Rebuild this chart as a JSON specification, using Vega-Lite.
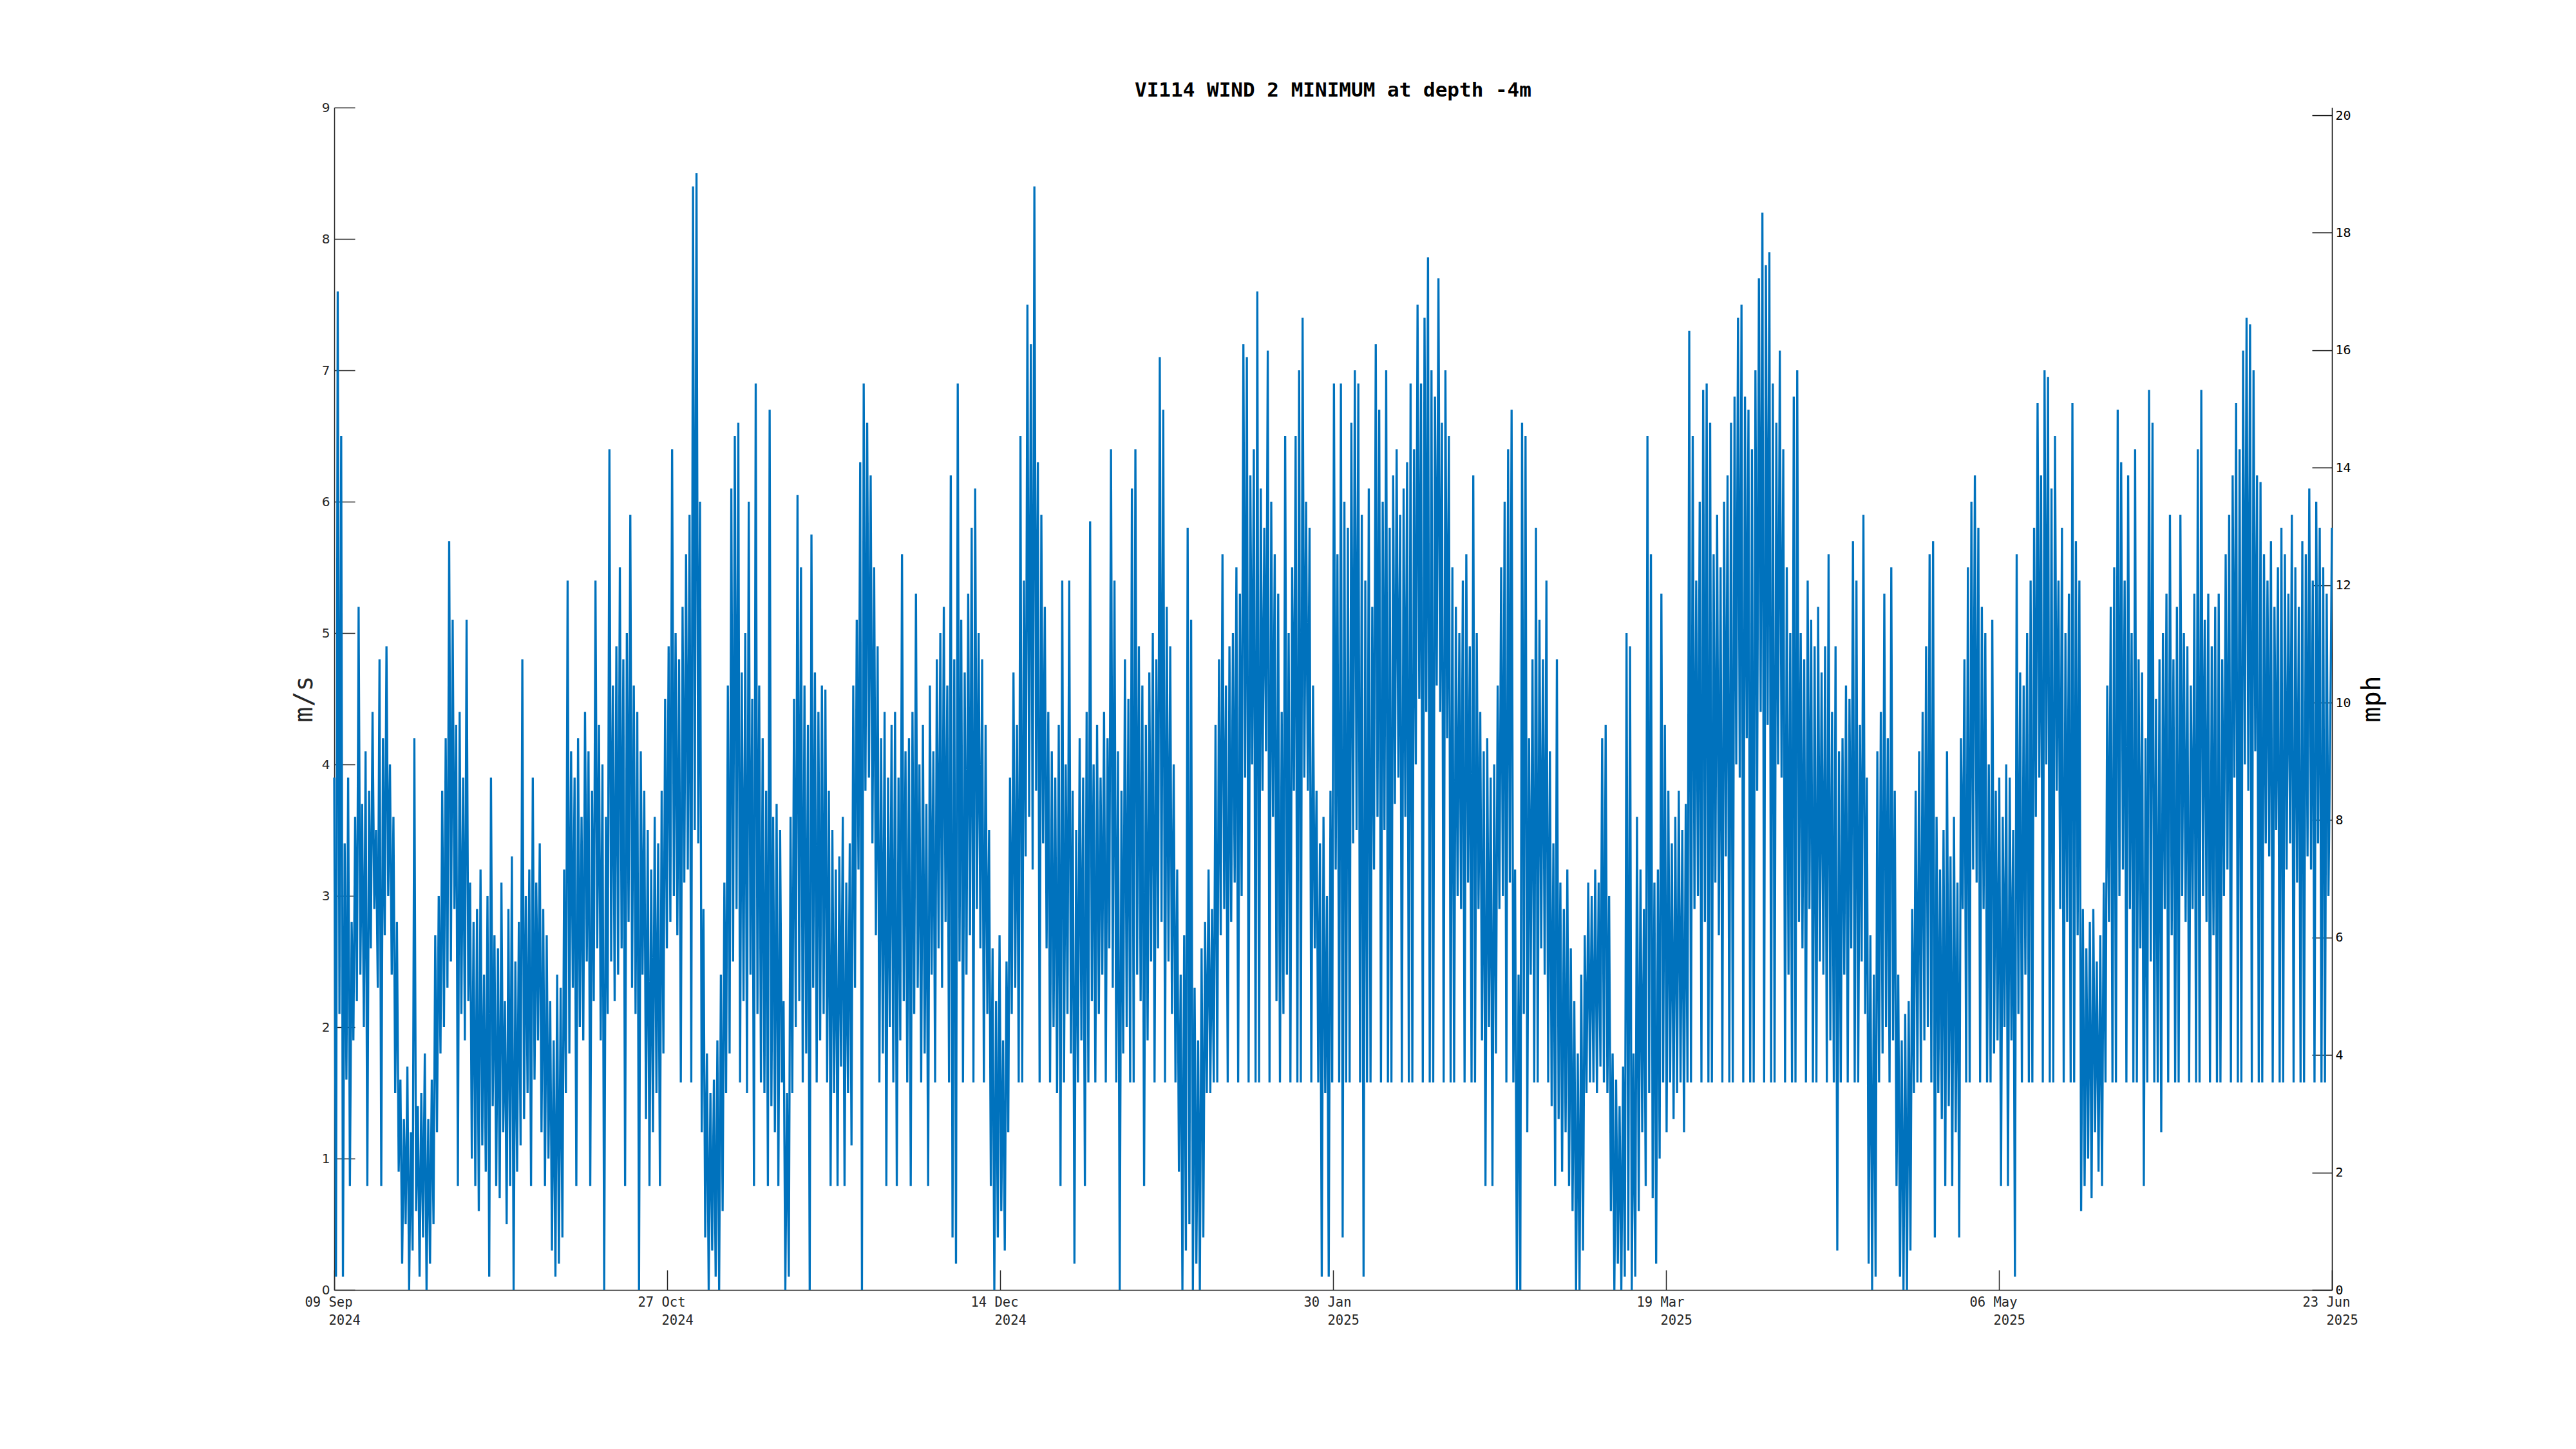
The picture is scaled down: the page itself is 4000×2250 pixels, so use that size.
{
"$schema": "https://vega.github.io/schema/vega-lite/v6.json",
"width": 3102, "height": 1836,
"autosize": "none",
"padding": {"left": 519, "top": 167, "right": 379, "bottom": 247},
"background": "white",
"config": {"view": {"stroke": null}},
"title": {"text": "VI114 WIND 2 MINIMUM at depth -4m", "font": "DejaVu Sans Mono", "fontSize": 31, "fontWeight": "bold", "color": "black", "anchor": "middle", "frame": "group", "offset": 14, "dy": 38, "baseline": "alphabetic"},
"datasets": {
"mphscale": [{"mph": 0}, {"mph": 20}],
"wind": [
{"t":"2024-09-09T12:00","v":3.9},{"t":"2024-09-09T18:00","v":0.1},
{"t":"2024-09-10T00:00","v":7.6},{"t":"2024-09-10T06:00","v":2.1},{"t":"2024-09-10T12:00","v":6.5},{"t":"2024-09-10T18:00","v":0.1},
{"t":"2024-09-11T00:00","v":3.4},{"t":"2024-09-11T06:00","v":1.6},{"t":"2024-09-11T12:00","v":3.9},{"t":"2024-09-11T18:00","v":0.79},
{"t":"2024-09-12T00:00","v":2.8},{"t":"2024-09-12T06:00","v":1.9},{"t":"2024-09-12T12:00","v":3.6},{"t":"2024-09-12T18:00","v":2.2},
{"t":"2024-09-13T00:00","v":5.2},{"t":"2024-09-13T06:00","v":2.4},{"t":"2024-09-13T12:00","v":3.7},{"t":"2024-09-13T18:00","v":2.0},
{"t":"2024-09-14T00:00","v":4.1},{"t":"2024-09-14T06:00","v":0.79},{"t":"2024-09-14T12:00","v":3.8},{"t":"2024-09-14T18:00","v":2.6},
{"t":"2024-09-15T00:00","v":4.4},{"t":"2024-09-15T06:00","v":2.9},{"t":"2024-09-15T12:00","v":3.5},{"t":"2024-09-15T18:00","v":2.3},
{"t":"2024-09-16T00:00","v":4.8},{"t":"2024-09-16T06:00","v":0.79},{"t":"2024-09-16T12:00","v":4.2},{"t":"2024-09-16T18:00","v":2.7},
{"t":"2024-09-17T00:00","v":4.9},{"t":"2024-09-17T06:00","v":3.0},{"t":"2024-09-17T12:00","v":4.0},{"t":"2024-09-17T18:00","v":2.4},
{"t":"2024-09-18T00:00","v":3.6},{"t":"2024-09-18T06:00","v":1.5},{"t":"2024-09-18T12:00","v":2.8},{"t":"2024-09-18T18:00","v":0.9},
{"t":"2024-09-19T00:00","v":1.6},{"t":"2024-09-19T06:00","v":0.2},{"t":"2024-09-19T12:00","v":1.3},{"t":"2024-09-19T18:00","v":0.5},
{"t":"2024-09-20T00:00","v":1.7},{"t":"2024-09-20T06:00","v":0.0},{"t":"2024-09-20T12:00","v":1.2},{"t":"2024-09-20T18:00","v":0.3},
{"t":"2024-09-21T00:00","v":4.2},{"t":"2024-09-21T06:00","v":0.6},{"t":"2024-09-21T12:00","v":1.4},{"t":"2024-09-21T18:00","v":0.1},
{"t":"2024-09-22T00:00","v":1.5},{"t":"2024-09-22T06:00","v":0.4},{"t":"2024-09-22T12:00","v":1.8},{"t":"2024-09-22T18:00","v":0.0},
{"t":"2024-09-23T00:00","v":1.3},{"t":"2024-09-23T06:00","v":0.2},{"t":"2024-09-23T12:00","v":1.6},{"t":"2024-09-23T18:00","v":0.5},
{"t":"2024-09-24T00:00","v":2.7},{"t":"2024-09-24T06:00","v":1.2},{"t":"2024-09-24T12:00","v":3.0},{"t":"2024-09-24T18:00","v":1.8},
{"t":"2024-09-25T00:00","v":3.8},{"t":"2024-09-25T06:00","v":2.0},{"t":"2024-09-25T12:00","v":4.2},{"t":"2024-09-25T18:00","v":2.3},
{"t":"2024-09-26T00:00","v":5.7},{"t":"2024-09-26T06:00","v":2.5},{"t":"2024-09-26T12:00","v":5.1},{"t":"2024-09-26T18:00","v":2.9},
{"t":"2024-09-27T00:00","v":4.3},{"t":"2024-09-27T06:00","v":0.79},{"t":"2024-09-27T12:00","v":4.4},{"t":"2024-09-27T18:00","v":2.1},
{"t":"2024-09-28T00:00","v":3.9},{"t":"2024-09-28T06:00","v":1.9},{"t":"2024-09-28T12:00","v":5.1},{"t":"2024-09-28T18:00","v":2.2},
{"t":"2024-09-29T00:00","v":3.1},{"t":"2024-09-29T06:00","v":1.0},{"t":"2024-09-29T12:00","v":2.8},{"t":"2024-09-29T18:00","v":0.79},
{"t":"2024-09-30T00:00","v":2.9},{"t":"2024-09-30T06:00","v":0.6},{"t":"2024-09-30T12:00","v":3.2},{"t":"2024-09-30T18:00","v":1.1},
{"t":"2024-10-01T00:00","v":2.4},{"t":"2024-10-01T06:00","v":0.9},{"t":"2024-10-01T12:00","v":3.0},{"t":"2024-10-01T18:00","v":0.1},
{"t":"2024-10-02T00:00","v":3.9},{"t":"2024-10-02T06:00","v":1.4},{"t":"2024-10-02T12:00","v":2.7},{"t":"2024-10-02T18:00","v":0.79},
{"t":"2024-10-03T00:00","v":2.6},{"t":"2024-10-03T06:00","v":0.7},{"t":"2024-10-03T12:00","v":3.1},{"t":"2024-10-03T18:00","v":1.2},
{"t":"2024-10-04T00:00","v":2.2},{"t":"2024-10-04T06:00","v":0.5},{"t":"2024-10-04T12:00","v":2.9},{"t":"2024-10-04T18:00","v":0.79},
{"t":"2024-10-05T00:00","v":3.3},{"t":"2024-10-05T06:00","v":0.0},{"t":"2024-10-05T12:00","v":2.5},{"t":"2024-10-05T18:00","v":0.9},
{"t":"2024-10-06T00:00","v":2.8},{"t":"2024-10-06T06:00","v":1.1},{"t":"2024-10-06T12:00","v":4.8},{"t":"2024-10-06T18:00","v":1.3},
{"t":"2024-10-07T00:00","v":3.0},{"t":"2024-10-07T06:00","v":1.5},{"t":"2024-10-07T12:00","v":3.2},{"t":"2024-10-07T18:00","v":0.79},
{"t":"2024-10-08T00:00","v":3.9},{"t":"2024-10-08T06:00","v":1.6},{"t":"2024-10-08T12:00","v":3.1},{"t":"2024-10-08T18:00","v":1.9},
{"t":"2024-10-09T00:00","v":3.4},{"t":"2024-10-09T06:00","v":1.2},{"t":"2024-10-09T12:00","v":2.9},{"t":"2024-10-09T18:00","v":0.79},
{"t":"2024-10-10T00:00","v":2.7},{"t":"2024-10-10T06:00","v":1.0},{"t":"2024-10-10T12:00","v":2.2},{"t":"2024-10-10T18:00","v":0.3},
{"t":"2024-10-11T00:00","v":1.9},{"t":"2024-10-11T06:00","v":0.1},{"t":"2024-10-11T12:00","v":2.4},{"t":"2024-10-11T18:00","v":0.2},
{"t":"2024-10-12T00:00","v":2.3},{"t":"2024-10-12T06:00","v":0.4},{"t":"2024-10-12T12:00","v":3.2},{"t":"2024-10-12T18:00","v":1.5},
{"t":"2024-10-13T00:00","v":5.4},{"t":"2024-10-13T06:00","v":1.8},{"t":"2024-10-13T12:00","v":4.1},{"t":"2024-10-13T18:00","v":2.3},
{"t":"2024-10-14T00:00","v":3.9},{"t":"2024-10-14T06:00","v":0.79},{"t":"2024-10-14T12:00","v":4.2},{"t":"2024-10-14T18:00","v":2.0},
{"t":"2024-10-15T00:00","v":3.6},{"t":"2024-10-15T06:00","v":1.9},{"t":"2024-10-15T12:00","v":4.4},{"t":"2024-10-15T18:00","v":2.5},
{"t":"2024-10-16T00:00","v":4.1},{"t":"2024-10-16T06:00","v":0.79},{"t":"2024-10-16T12:00","v":3.8},{"t":"2024-10-16T18:00","v":2.2},
{"t":"2024-10-17T00:00","v":5.4},{"t":"2024-10-17T06:00","v":2.6},{"t":"2024-10-17T12:00","v":4.3},{"t":"2024-10-17T18:00","v":1.9},
{"t":"2024-10-18T00:00","v":4.0},{"t":"2024-10-18T06:00","v":0.0},{"t":"2024-10-18T12:00","v":3.6},{"t":"2024-10-18T18:00","v":2.1},
{"t":"2024-10-19T00:00","v":6.4},{"t":"2024-10-19T06:00","v":2.5},{"t":"2024-10-19T12:00","v":4.6},{"t":"2024-10-19T18:00","v":2.2},
{"t":"2024-10-20T00:00","v":4.9},{"t":"2024-10-20T06:00","v":2.4},{"t":"2024-10-20T12:00","v":5.5},{"t":"2024-10-20T18:00","v":2.6},
{"t":"2024-10-21T00:00","v":4.8},{"t":"2024-10-21T06:00","v":0.79},{"t":"2024-10-21T12:00","v":5.0},{"t":"2024-10-21T18:00","v":2.8},
{"t":"2024-10-22T00:00","v":5.9},{"t":"2024-10-22T06:00","v":2.3},{"t":"2024-10-22T12:00","v":4.6},{"t":"2024-10-22T18:00","v":2.1},
{"t":"2024-10-23T00:00","v":4.4},{"t":"2024-10-23T06:00","v":0.0},{"t":"2024-10-23T12:00","v":4.1},{"t":"2024-10-23T18:00","v":2.4},
{"t":"2024-10-24T00:00","v":3.8},{"t":"2024-10-24T06:00","v":1.3},{"t":"2024-10-24T12:00","v":3.5},{"t":"2024-10-24T18:00","v":0.79},
{"t":"2024-10-25T00:00","v":3.2},{"t":"2024-10-25T06:00","v":1.2},{"t":"2024-10-25T12:00","v":3.6},{"t":"2024-10-25T18:00","v":1.5},
{"t":"2024-10-26T00:00","v":3.4},{"t":"2024-10-26T06:00","v":0.79},{"t":"2024-10-26T12:00","v":3.8},{"t":"2024-10-26T18:00","v":1.8},
{"t":"2024-10-27T00:00","v":4.5},{"t":"2024-10-27T06:00","v":2.6},{"t":"2024-10-27T12:00","v":4.9},{"t":"2024-10-27T18:00","v":2.8},
{"t":"2024-10-28T00:00","v":6.4},{"t":"2024-10-28T06:00","v":3.0},{"t":"2024-10-28T12:00","v":5.0},{"t":"2024-10-28T18:00","v":2.7},
{"t":"2024-10-29T00:00","v":4.8},{"t":"2024-10-29T06:00","v":1.58},{"t":"2024-10-29T12:00","v":5.2},{"t":"2024-10-29T18:00","v":3.1},
{"t":"2024-10-30T00:00","v":5.6},{"t":"2024-10-30T06:00","v":3.2},{"t":"2024-10-30T12:00","v":5.9},{"t":"2024-10-30T18:00","v":1.58},
{"t":"2024-10-31T00:00","v":8.4},{"t":"2024-10-31T06:00","v":3.5},{"t":"2024-10-31T12:00","v":8.5},{"t":"2024-10-31T18:00","v":3.4},
{"t":"2024-11-01T00:00","v":6.0},{"t":"2024-11-01T06:00","v":1.2},{"t":"2024-11-01T12:00","v":2.9},{"t":"2024-11-01T18:00","v":0.4},
{"t":"2024-11-02T00:00","v":1.8},{"t":"2024-11-02T06:00","v":0.0},{"t":"2024-11-02T12:00","v":1.5},{"t":"2024-11-02T18:00","v":0.3},
{"t":"2024-11-03T00:00","v":1.6},{"t":"2024-11-03T06:00","v":0.1},{"t":"2024-11-03T12:00","v":1.9},{"t":"2024-11-03T18:00","v":0.0},
{"t":"2024-11-04T00:00","v":2.4},{"t":"2024-11-04T06:00","v":0.6},{"t":"2024-11-04T12:00","v":3.1},{"t":"2024-11-04T18:00","v":1.5},
{"t":"2024-11-05T00:00","v":4.6},{"t":"2024-11-05T06:00","v":1.8},{"t":"2024-11-05T12:00","v":6.1},{"t":"2024-11-05T18:00","v":2.5},
{"t":"2024-11-06T00:00","v":6.5},{"t":"2024-11-06T06:00","v":2.9},{"t":"2024-11-06T12:00","v":6.6},{"t":"2024-11-06T18:00","v":1.58},
{"t":"2024-11-07T00:00","v":4.7},{"t":"2024-11-07T06:00","v":2.2},{"t":"2024-11-07T12:00","v":5.0},{"t":"2024-11-07T18:00","v":1.5},
{"t":"2024-11-08T00:00","v":6.0},{"t":"2024-11-08T06:00","v":2.4},{"t":"2024-11-08T12:00","v":4.5},{"t":"2024-11-08T18:00","v":0.79},
{"t":"2024-11-09T00:00","v":6.9},{"t":"2024-11-09T06:00","v":2.1},{"t":"2024-11-09T12:00","v":4.6},{"t":"2024-11-09T18:00","v":1.58},
{"t":"2024-11-10T00:00","v":4.2},{"t":"2024-11-10T06:00","v":1.5},{"t":"2024-11-10T12:00","v":3.8},{"t":"2024-11-10T18:00","v":0.79},
{"t":"2024-11-11T00:00","v":6.7},{"t":"2024-11-11T06:00","v":1.4},{"t":"2024-11-11T12:00","v":3.6},{"t":"2024-11-11T18:00","v":1.2},
{"t":"2024-11-12T00:00","v":3.7},{"t":"2024-11-12T06:00","v":0.79},{"t":"2024-11-12T12:00","v":3.5},{"t":"2024-11-12T18:00","v":1.58},
{"t":"2024-11-13T00:00","v":2.2},{"t":"2024-11-13T06:00","v":0.0},{"t":"2024-11-13T12:00","v":1.5},{"t":"2024-11-13T18:00","v":0.1},
{"t":"2024-11-14T00:00","v":3.6},{"t":"2024-11-14T06:00","v":1.5},{"t":"2024-11-14T12:00","v":4.5},{"t":"2024-11-14T18:00","v":2.0},
{"t":"2024-11-15T00:00","v":6.05},{"t":"2024-11-15T06:00","v":2.2},{"t":"2024-11-15T12:00","v":5.5},{"t":"2024-11-15T18:00","v":1.58},
{"t":"2024-11-16T00:00","v":4.6},{"t":"2024-11-16T06:00","v":1.8},{"t":"2024-11-16T12:00","v":4.3},{"t":"2024-11-16T18:00","v":0.0},
{"t":"2024-11-17T00:00","v":5.75},{"t":"2024-11-17T06:00","v":2.3},{"t":"2024-11-17T12:00","v":4.7},{"t":"2024-11-17T18:00","v":1.58},
{"t":"2024-11-18T00:00","v":4.4},{"t":"2024-11-18T06:00","v":1.9},{"t":"2024-11-18T12:00","v":4.6},{"t":"2024-11-18T18:00","v":2.1},
{"t":"2024-11-19T00:00","v":4.57},{"t":"2024-11-19T06:00","v":1.58},{"t":"2024-11-19T12:00","v":3.8},{"t":"2024-11-19T18:00","v":0.79},
{"t":"2024-11-20T00:00","v":3.5},{"t":"2024-11-20T06:00","v":1.5},{"t":"2024-11-20T12:00","v":3.2},{"t":"2024-11-20T18:00","v":0.79},
{"t":"2024-11-21T00:00","v":3.3},{"t":"2024-11-21T06:00","v":1.7},{"t":"2024-11-21T12:00","v":3.6},{"t":"2024-11-21T18:00","v":0.79},
{"t":"2024-11-22T00:00","v":3.1},{"t":"2024-11-22T06:00","v":1.5},{"t":"2024-11-22T12:00","v":3.4},{"t":"2024-11-22T18:00","v":1.1},
{"t":"2024-11-23T00:00","v":4.6},{"t":"2024-11-23T06:00","v":2.3},{"t":"2024-11-23T12:00","v":5.1},{"t":"2024-11-23T18:00","v":3.2},
{"t":"2024-11-24T00:00","v":6.3},{"t":"2024-11-24T06:00","v":0.0},{"t":"2024-11-24T12:00","v":6.9},{"t":"2024-11-24T18:00","v":3.8},
{"t":"2024-11-25T00:00","v":6.6},{"t":"2024-11-25T06:00","v":3.9},{"t":"2024-11-25T12:00","v":6.2},{"t":"2024-11-25T18:00","v":3.4},
{"t":"2024-11-26T00:00","v":5.5},{"t":"2024-11-26T06:00","v":2.7},{"t":"2024-11-26T12:00","v":4.9},{"t":"2024-11-26T18:00","v":1.58},
{"t":"2024-11-27T00:00","v":4.2},{"t":"2024-11-27T06:00","v":1.8},{"t":"2024-11-27T12:00","v":4.4},{"t":"2024-11-27T18:00","v":0.79},
{"t":"2024-11-28T00:00","v":3.9},{"t":"2024-11-28T06:00","v":2.0},{"t":"2024-11-28T12:00","v":4.3},{"t":"2024-11-28T18:00","v":1.58},
{"t":"2024-11-29T00:00","v":4.4},{"t":"2024-11-29T06:00","v":0.79},{"t":"2024-11-29T12:00","v":3.9},{"t":"2024-11-29T18:00","v":1.9},
{"t":"2024-11-30T00:00","v":5.6},{"t":"2024-11-30T06:00","v":2.2},{"t":"2024-11-30T12:00","v":4.1},{"t":"2024-11-30T18:00","v":1.58},
{"t":"2024-12-01T00:00","v":4.2},{"t":"2024-12-01T06:00","v":0.79},{"t":"2024-12-01T12:00","v":4.4},{"t":"2024-12-01T18:00","v":2.1},
{"t":"2024-12-02T00:00","v":5.3},{"t":"2024-12-02T06:00","v":2.3},{"t":"2024-12-02T12:00","v":4.0},{"t":"2024-12-02T18:00","v":1.58},
{"t":"2024-12-03T00:00","v":4.3},{"t":"2024-12-03T06:00","v":1.8},{"t":"2024-12-03T12:00","v":3.7},{"t":"2024-12-03T18:00","v":0.79},
{"t":"2024-12-04T00:00","v":4.6},{"t":"2024-12-04T06:00","v":2.4},{"t":"2024-12-04T12:00","v":4.1},{"t":"2024-12-04T18:00","v":1.58},
{"t":"2024-12-05T00:00","v":4.8},{"t":"2024-12-05T06:00","v":2.6},{"t":"2024-12-05T12:00","v":5.0},{"t":"2024-12-05T18:00","v":2.3},
{"t":"2024-12-06T00:00","v":5.2},{"t":"2024-12-06T06:00","v":2.8},{"t":"2024-12-06T12:00","v":4.6},{"t":"2024-12-06T18:00","v":1.58},
{"t":"2024-12-07T00:00","v":6.2},{"t":"2024-12-07T06:00","v":0.4},{"t":"2024-12-07T12:00","v":4.8},{"t":"2024-12-07T18:00","v":0.2},
{"t":"2024-12-08T00:00","v":6.9},{"t":"2024-12-08T06:00","v":2.5},{"t":"2024-12-08T12:00","v":5.1},{"t":"2024-12-08T18:00","v":1.58},
{"t":"2024-12-09T00:00","v":4.7},{"t":"2024-12-09T06:00","v":2.4},{"t":"2024-12-09T12:00","v":5.3},{"t":"2024-12-09T18:00","v":2.7},
{"t":"2024-12-10T00:00","v":5.8},{"t":"2024-12-10T06:00","v":1.58},{"t":"2024-12-10T12:00","v":6.1},{"t":"2024-12-10T18:00","v":2.9},
{"t":"2024-12-11T00:00","v":5.0},{"t":"2024-12-11T06:00","v":2.6},{"t":"2024-12-11T12:00","v":4.8},{"t":"2024-12-11T18:00","v":1.58},
{"t":"2024-12-12T00:00","v":4.3},{"t":"2024-12-12T06:00","v":2.1},{"t":"2024-12-12T12:00","v":3.5},{"t":"2024-12-12T18:00","v":0.79},
{"t":"2024-12-13T00:00","v":2.6},{"t":"2024-12-13T06:00","v":0.0},{"t":"2024-12-13T12:00","v":2.2},{"t":"2024-12-13T18:00","v":0.4},
{"t":"2024-12-14T00:00","v":2.7},{"t":"2024-12-14T06:00","v":0.6},{"t":"2024-12-14T12:00","v":1.9},{"t":"2024-12-14T18:00","v":0.3},
{"t":"2024-12-15T00:00","v":2.5},{"t":"2024-12-15T06:00","v":1.2},{"t":"2024-12-15T12:00","v":3.9},{"t":"2024-12-15T18:00","v":2.1},
{"t":"2024-12-16T00:00","v":4.7},{"t":"2024-12-16T06:00","v":2.3},{"t":"2024-12-16T12:00","v":4.3},{"t":"2024-12-16T18:00","v":1.58},
{"t":"2024-12-17T00:00","v":6.5},{"t":"2024-12-17T06:00","v":1.58},{"t":"2024-12-17T12:00","v":5.4},{"t":"2024-12-17T18:00","v":3.3},
{"t":"2024-12-18T00:00","v":7.5},{"t":"2024-12-18T06:00","v":3.6},{"t":"2024-12-18T12:00","v":7.2},{"t":"2024-12-18T18:00","v":3.2},
{"t":"2024-12-19T00:00","v":8.4},{"t":"2024-12-19T06:00","v":3.8},{"t":"2024-12-19T12:00","v":6.3},{"t":"2024-12-19T18:00","v":1.58},
{"t":"2024-12-20T00:00","v":5.9},{"t":"2024-12-20T06:00","v":3.4},{"t":"2024-12-20T12:00","v":5.2},{"t":"2024-12-20T18:00","v":2.6},
{"t":"2024-12-21T00:00","v":4.4},{"t":"2024-12-21T06:00","v":1.58},{"t":"2024-12-21T12:00","v":4.1},{"t":"2024-12-21T18:00","v":2.0},
{"t":"2024-12-22T00:00","v":3.9},{"t":"2024-12-22T06:00","v":1.5},{"t":"2024-12-22T12:00","v":4.3},{"t":"2024-12-22T18:00","v":0.79},
{"t":"2024-12-23T00:00","v":5.4},{"t":"2024-12-23T06:00","v":1.58},{"t":"2024-12-23T12:00","v":4.0},{"t":"2024-12-23T18:00","v":2.1},
{"t":"2024-12-24T00:00","v":5.4},{"t":"2024-12-24T06:00","v":1.8},{"t":"2024-12-24T12:00","v":3.8},{"t":"2024-12-24T18:00","v":0.2},
{"t":"2024-12-25T00:00","v":3.5},{"t":"2024-12-25T06:00","v":1.58},{"t":"2024-12-25T12:00","v":4.2},{"t":"2024-12-25T18:00","v":1.9},
{"t":"2024-12-26T00:00","v":3.9},{"t":"2024-12-26T06:00","v":0.79},{"t":"2024-12-26T12:00","v":4.4},{"t":"2024-12-26T18:00","v":1.58},
{"t":"2024-12-27T00:00","v":5.85},{"t":"2024-12-27T06:00","v":2.2},{"t":"2024-12-27T12:00","v":4.0},{"t":"2024-12-27T18:00","v":1.58},
{"t":"2024-12-28T00:00","v":4.3},{"t":"2024-12-28T06:00","v":2.1},{"t":"2024-12-28T12:00","v":3.9},{"t":"2024-12-28T18:00","v":2.4},
{"t":"2024-12-29T00:00","v":4.4},{"t":"2024-12-29T06:00","v":1.58},{"t":"2024-12-29T12:00","v":4.2},{"t":"2024-12-29T18:00","v":2.6},
{"t":"2024-12-30T00:00","v":6.4},{"t":"2024-12-30T06:00","v":2.3},{"t":"2024-12-30T12:00","v":5.4},{"t":"2024-12-30T18:00","v":1.58},
{"t":"2024-12-31T00:00","v":4.1},{"t":"2024-12-31T06:00","v":0.0},{"t":"2024-12-31T12:00","v":3.8},{"t":"2024-12-31T18:00","v":1.8},
{"t":"2025-01-01T00:00","v":4.8},{"t":"2025-01-01T06:00","v":2.0},{"t":"2025-01-01T12:00","v":4.5},{"t":"2025-01-01T18:00","v":1.58},
{"t":"2025-01-02T00:00","v":6.1},{"t":"2025-01-02T06:00","v":1.58},{"t":"2025-01-02T12:00","v":6.4},{"t":"2025-01-02T18:00","v":2.4},
{"t":"2025-01-03T00:00","v":4.9},{"t":"2025-01-03T06:00","v":2.2},{"t":"2025-01-03T12:00","v":4.6},{"t":"2025-01-03T18:00","v":0.79},
{"t":"2025-01-04T00:00","v":4.3},{"t":"2025-01-04T06:00","v":1.9},{"t":"2025-01-04T12:00","v":4.7},{"t":"2025-01-04T18:00","v":2.5},
{"t":"2025-01-05T00:00","v":5.0},{"t":"2025-01-05T06:00","v":1.58},{"t":"2025-01-05T12:00","v":4.8},{"t":"2025-01-05T18:00","v":2.6},
{"t":"2025-01-06T00:00","v":7.1},{"t":"2025-01-06T06:00","v":2.8},{"t":"2025-01-06T12:00","v":6.7},{"t":"2025-01-06T18:00","v":1.58},
{"t":"2025-01-07T00:00","v":5.2},{"t":"2025-01-07T06:00","v":2.5},{"t":"2025-01-07T12:00","v":4.9},{"t":"2025-01-07T18:00","v":2.1},
{"t":"2025-01-08T00:00","v":4.0},{"t":"2025-01-08T06:00","v":1.58},{"t":"2025-01-08T12:00","v":3.2},{"t":"2025-01-08T18:00","v":0.9},
{"t":"2025-01-09T00:00","v":2.4},{"t":"2025-01-09T06:00","v":0.0},{"t":"2025-01-09T12:00","v":2.7},{"t":"2025-01-09T18:00","v":0.3},
{"t":"2025-01-10T00:00","v":5.8},{"t":"2025-01-10T06:00","v":0.5},{"t":"2025-01-10T12:00","v":5.1},{"t":"2025-01-10T18:00","v":0.0},
{"t":"2025-01-11T00:00","v":2.3},{"t":"2025-01-11T06:00","v":0.2},{"t":"2025-01-11T12:00","v":1.9},{"t":"2025-01-11T18:00","v":0.0},
{"t":"2025-01-12T00:00","v":2.6},{"t":"2025-01-12T06:00","v":0.4},{"t":"2025-01-12T12:00","v":2.8},{"t":"2025-01-12T18:00","v":1.5},
{"t":"2025-01-13T00:00","v":3.2},{"t":"2025-01-13T06:00","v":1.5},{"t":"2025-01-13T12:00","v":2.9},{"t":"2025-01-13T18:00","v":1.58},
{"t":"2025-01-14T00:00","v":4.3},{"t":"2025-01-14T06:00","v":1.58},{"t":"2025-01-14T12:00","v":4.8},{"t":"2025-01-14T18:00","v":2.7},
{"t":"2025-01-15T00:00","v":5.6},{"t":"2025-01-15T06:00","v":2.9},{"t":"2025-01-15T12:00","v":4.6},{"t":"2025-01-15T18:00","v":1.58},
{"t":"2025-01-16T00:00","v":4.9},{"t":"2025-01-16T06:00","v":2.8},{"t":"2025-01-16T12:00","v":5.0},{"t":"2025-01-16T18:00","v":3.1},
{"t":"2025-01-17T00:00","v":5.5},{"t":"2025-01-17T06:00","v":1.58},{"t":"2025-01-17T12:00","v":5.3},{"t":"2025-01-17T18:00","v":3.0},
{"t":"2025-01-18T00:00","v":7.2},{"t":"2025-01-18T06:00","v":3.9},{"t":"2025-01-18T12:00","v":7.1},{"t":"2025-01-18T18:00","v":1.58},
{"t":"2025-01-19T00:00","v":6.2},{"t":"2025-01-19T06:00","v":4.0},{"t":"2025-01-19T12:00","v":6.4},{"t":"2025-01-19T18:00","v":1.58},
{"t":"2025-01-20T00:00","v":7.6},{"t":"2025-01-20T06:00","v":1.58},{"t":"2025-01-20T12:00","v":6.1},{"t":"2025-01-20T18:00","v":3.8},
{"t":"2025-01-21T00:00","v":5.8},{"t":"2025-01-21T06:00","v":4.1},{"t":"2025-01-21T12:00","v":7.15},{"t":"2025-01-21T18:00","v":1.58},
{"t":"2025-01-22T00:00","v":6.0},{"t":"2025-01-22T06:00","v":3.6},{"t":"2025-01-22T12:00","v":5.6},{"t":"2025-01-22T18:00","v":2.2},
{"t":"2025-01-23T00:00","v":5.3},{"t":"2025-01-23T06:00","v":1.58},{"t":"2025-01-23T12:00","v":4.4},{"t":"2025-01-23T18:00","v":2.1},
{"t":"2025-01-24T00:00","v":6.5},{"t":"2025-01-24T06:00","v":2.4},{"t":"2025-01-24T12:00","v":5.0},{"t":"2025-01-24T18:00","v":1.58},
{"t":"2025-01-25T00:00","v":5.5},{"t":"2025-01-25T06:00","v":3.8},{"t":"2025-01-25T12:00","v":6.5},{"t":"2025-01-25T18:00","v":1.58},
{"t":"2025-01-26T00:00","v":7.0},{"t":"2025-01-26T06:00","v":1.58},{"t":"2025-01-26T12:00","v":7.4},{"t":"2025-01-26T18:00","v":3.9},
{"t":"2025-01-27T00:00","v":6.0},{"t":"2025-01-27T06:00","v":3.8},{"t":"2025-01-27T12:00","v":5.8},{"t":"2025-01-27T18:00","v":1.58},
{"t":"2025-01-28T00:00","v":4.6},{"t":"2025-01-28T06:00","v":2.6},{"t":"2025-01-28T12:00","v":3.8},{"t":"2025-01-28T18:00","v":1.58},
{"t":"2025-01-29T00:00","v":3.4},{"t":"2025-01-29T06:00","v":0.1},{"t":"2025-01-29T12:00","v":3.6},{"t":"2025-01-29T18:00","v":1.5},
{"t":"2025-01-30T00:00","v":3.0},{"t":"2025-01-30T06:00","v":0.1},{"t":"2025-01-30T12:00","v":3.8},{"t":"2025-01-30T18:00","v":1.58},
{"t":"2025-01-31T00:00","v":6.9},{"t":"2025-01-31T06:00","v":3.2},{"t":"2025-01-31T12:00","v":5.6},{"t":"2025-01-31T18:00","v":1.58},
{"t":"2025-02-01T00:00","v":6.9},{"t":"2025-02-01T06:00","v":0.4},{"t":"2025-02-01T12:00","v":6.0},{"t":"2025-02-01T18:00","v":1.58},
{"t":"2025-02-02T00:00","v":5.8},{"t":"2025-02-02T06:00","v":1.58},{"t":"2025-02-02T12:00","v":6.6},{"t":"2025-02-02T18:00","v":3.4},
{"t":"2025-02-03T00:00","v":7.0},{"t":"2025-02-03T06:00","v":3.5},{"t":"2025-02-03T12:00","v":6.9},{"t":"2025-02-03T18:00","v":1.58},
{"t":"2025-02-04T00:00","v":5.9},{"t":"2025-02-04T06:00","v":0.1},{"t":"2025-02-04T12:00","v":5.4},{"t":"2025-02-04T18:00","v":1.58},
{"t":"2025-02-05T00:00","v":6.1},{"t":"2025-02-05T06:00","v":1.58},{"t":"2025-02-05T12:00","v":5.2},{"t":"2025-02-05T18:00","v":3.2},
{"t":"2025-02-06T00:00","v":7.2},{"t":"2025-02-06T06:00","v":3.6},{"t":"2025-02-06T12:00","v":6.7},{"t":"2025-02-06T18:00","v":1.58},
{"t":"2025-02-07T00:00","v":6.0},{"t":"2025-02-07T06:00","v":3.5},{"t":"2025-02-07T12:00","v":7.0},{"t":"2025-02-07T18:00","v":1.58},
{"t":"2025-02-08T00:00","v":5.8},{"t":"2025-02-08T06:00","v":1.58},{"t":"2025-02-08T12:00","v":6.2},{"t":"2025-02-08T18:00","v":3.7},
{"t":"2025-02-09T00:00","v":6.4},{"t":"2025-02-09T06:00","v":3.9},{"t":"2025-02-09T12:00","v":5.9},{"t":"2025-02-09T18:00","v":1.58},
{"t":"2025-02-10T00:00","v":6.1},{"t":"2025-02-10T06:00","v":3.6},{"t":"2025-02-10T12:00","v":6.3},{"t":"2025-02-10T18:00","v":1.58},
{"t":"2025-02-11T00:00","v":6.9},{"t":"2025-02-11T06:00","v":1.58},{"t":"2025-02-11T12:00","v":6.4},{"t":"2025-02-11T18:00","v":4.0},
{"t":"2025-02-12T00:00","v":7.5},{"t":"2025-02-12T06:00","v":4.5},{"t":"2025-02-12T12:00","v":6.9},{"t":"2025-02-12T18:00","v":1.58},
{"t":"2025-02-13T00:00","v":7.4},{"t":"2025-02-13T06:00","v":4.4},{"t":"2025-02-13T12:00","v":7.86},{"t":"2025-02-13T18:00","v":1.58},
{"t":"2025-02-14T00:00","v":7.0},{"t":"2025-02-14T06:00","v":1.58},{"t":"2025-02-14T12:00","v":6.8},{"t":"2025-02-14T18:00","v":4.6},
{"t":"2025-02-15T00:00","v":7.7},{"t":"2025-02-15T06:00","v":4.4},{"t":"2025-02-15T12:00","v":6.6},{"t":"2025-02-15T18:00","v":1.58},
{"t":"2025-02-16T00:00","v":7.0},{"t":"2025-02-16T06:00","v":4.2},{"t":"2025-02-16T12:00","v":6.5},{"t":"2025-02-16T18:00","v":1.58},
{"t":"2025-02-17T00:00","v":5.5},{"t":"2025-02-17T06:00","v":1.58},{"t":"2025-02-17T12:00","v":5.2},{"t":"2025-02-17T18:00","v":3.0},
{"t":"2025-02-18T00:00","v":5.0},{"t":"2025-02-18T06:00","v":2.9},{"t":"2025-02-18T12:00","v":5.4},{"t":"2025-02-18T18:00","v":1.58},
{"t":"2025-02-19T00:00","v":5.6},{"t":"2025-02-19T06:00","v":3.1},{"t":"2025-02-19T12:00","v":4.9},{"t":"2025-02-19T18:00","v":1.58},
{"t":"2025-02-20T00:00","v":6.2},{"t":"2025-02-20T06:00","v":1.58},{"t":"2025-02-20T12:00","v":5.0},{"t":"2025-02-20T18:00","v":2.9},
{"t":"2025-02-21T00:00","v":4.4},{"t":"2025-02-21T06:00","v":1.9},{"t":"2025-02-21T12:00","v":4.1},{"t":"2025-02-21T18:00","v":0.79},
{"t":"2025-02-22T00:00","v":4.2},{"t":"2025-02-22T06:00","v":2.0},{"t":"2025-02-22T12:00","v":3.9},{"t":"2025-02-22T18:00","v":0.79},
{"t":"2025-02-23T00:00","v":4.0},{"t":"2025-02-23T06:00","v":1.8},{"t":"2025-02-23T12:00","v":4.6},{"t":"2025-02-23T18:00","v":2.9},
{"t":"2025-02-24T00:00","v":5.5},{"t":"2025-02-24T06:00","v":3.0},{"t":"2025-02-24T12:00","v":6.0},{"t":"2025-02-24T18:00","v":1.58},
{"t":"2025-02-25T00:00","v":6.4},{"t":"2025-02-25T06:00","v":3.1},{"t":"2025-02-25T12:00","v":6.7},{"t":"2025-02-25T18:00","v":1.58},
{"t":"2025-02-26T00:00","v":3.2},{"t":"2025-02-26T06:00","v":0.0},{"t":"2025-02-26T12:00","v":2.4},{"t":"2025-02-26T18:00","v":0.0},
{"t":"2025-02-27T00:00","v":6.6},{"t":"2025-02-27T06:00","v":2.1},{"t":"2025-02-27T12:00","v":6.5},{"t":"2025-02-27T18:00","v":1.2},
{"t":"2025-02-28T00:00","v":4.2},{"t":"2025-02-28T06:00","v":2.4},{"t":"2025-02-28T12:00","v":4.8},{"t":"2025-02-28T18:00","v":1.58},
{"t":"2025-03-01T00:00","v":5.8},{"t":"2025-03-01T06:00","v":1.58},{"t":"2025-03-01T12:00","v":5.1},{"t":"2025-03-01T18:00","v":2.6},
{"t":"2025-03-02T00:00","v":4.8},{"t":"2025-03-02T06:00","v":2.4},{"t":"2025-03-02T12:00","v":5.4},{"t":"2025-03-02T18:00","v":1.58},
{"t":"2025-03-03T00:00","v":4.1},{"t":"2025-03-03T06:00","v":1.4},{"t":"2025-03-03T12:00","v":3.4},{"t":"2025-03-03T18:00","v":0.79},
{"t":"2025-03-04T00:00","v":4.8},{"t":"2025-03-04T06:00","v":1.3},{"t":"2025-03-04T12:00","v":3.1},{"t":"2025-03-04T18:00","v":0.9},
{"t":"2025-03-05T00:00","v":2.9},{"t":"2025-03-05T06:00","v":1.2},{"t":"2025-03-05T12:00","v":3.2},{"t":"2025-03-05T18:00","v":0.79},
{"t":"2025-03-06T00:00","v":2.6},{"t":"2025-03-06T06:00","v":0.6},{"t":"2025-03-06T12:00","v":2.2},{"t":"2025-03-06T18:00","v":0.0},
{"t":"2025-03-07T00:00","v":1.8},{"t":"2025-03-07T06:00","v":0.0},{"t":"2025-03-07T12:00","v":2.4},{"t":"2025-03-07T18:00","v":0.3},
{"t":"2025-03-08T00:00","v":2.7},{"t":"2025-03-08T06:00","v":1.5},{"t":"2025-03-08T12:00","v":3.1},{"t":"2025-03-08T18:00","v":1.58},
{"t":"2025-03-09T00:00","v":3.0},{"t":"2025-03-09T06:00","v":1.58},{"t":"2025-03-09T12:00","v":3.2},{"t":"2025-03-09T18:00","v":1.5},
{"t":"2025-03-10T00:00","v":3.1},{"t":"2025-03-10T06:00","v":1.7},{"t":"2025-03-10T12:00","v":4.2},{"t":"2025-03-10T18:00","v":1.58},
{"t":"2025-03-11T00:00","v":4.3},{"t":"2025-03-11T06:00","v":1.5},{"t":"2025-03-11T12:00","v":3.0},{"t":"2025-03-11T18:00","v":0.6},
{"t":"2025-03-12T00:00","v":1.8},{"t":"2025-03-12T06:00","v":0.0},{"t":"2025-03-12T12:00","v":1.6},{"t":"2025-03-12T18:00","v":0.2},
{"t":"2025-03-13T00:00","v":1.4},{"t":"2025-03-13T06:00","v":0.0},{"t":"2025-03-13T12:00","v":1.7},{"t":"2025-03-13T18:00","v":0.1},
{"t":"2025-03-14T00:00","v":5.0},{"t":"2025-03-14T06:00","v":0.3},{"t":"2025-03-14T12:00","v":4.9},{"t":"2025-03-14T18:00","v":0.0},
{"t":"2025-03-15T00:00","v":1.8},{"t":"2025-03-15T06:00","v":0.1},{"t":"2025-03-15T12:00","v":3.6},{"t":"2025-03-15T18:00","v":0.6},
{"t":"2025-03-16T00:00","v":3.2},{"t":"2025-03-16T06:00","v":1.2},{"t":"2025-03-16T12:00","v":2.9},{"t":"2025-03-16T18:00","v":0.79},
{"t":"2025-03-17T00:00","v":6.5},{"t":"2025-03-17T06:00","v":1.5},{"t":"2025-03-17T12:00","v":5.6},{"t":"2025-03-17T18:00","v":0.7},
{"t":"2025-03-18T00:00","v":3.1},{"t":"2025-03-18T06:00","v":0.2},{"t":"2025-03-18T12:00","v":3.2},{"t":"2025-03-18T18:00","v":1.0},
{"t":"2025-03-19T00:00","v":5.3},{"t":"2025-03-19T06:00","v":1.58},{"t":"2025-03-19T12:00","v":4.3},{"t":"2025-03-19T18:00","v":1.2},
{"t":"2025-03-20T00:00","v":3.8},{"t":"2025-03-20T06:00","v":1.58},{"t":"2025-03-20T12:00","v":3.4},{"t":"2025-03-20T18:00","v":1.3},
{"t":"2025-03-21T00:00","v":3.6},{"t":"2025-03-21T06:00","v":1.5},{"t":"2025-03-21T12:00","v":3.8},{"t":"2025-03-21T18:00","v":1.58},
{"t":"2025-03-22T00:00","v":3.5},{"t":"2025-03-22T06:00","v":1.2},{"t":"2025-03-22T12:00","v":3.7},{"t":"2025-03-22T18:00","v":1.58},
{"t":"2025-03-23T00:00","v":7.3},{"t":"2025-03-23T06:00","v":1.58},{"t":"2025-03-23T12:00","v":6.5},{"t":"2025-03-23T18:00","v":2.9},
{"t":"2025-03-24T00:00","v":5.4},{"t":"2025-03-24T06:00","v":3.0},{"t":"2025-03-24T12:00","v":6.0},{"t":"2025-03-24T18:00","v":1.58},
{"t":"2025-03-25T00:00","v":6.85},{"t":"2025-03-25T06:00","v":2.8},{"t":"2025-03-25T12:00","v":6.9},{"t":"2025-03-25T18:00","v":1.58},
{"t":"2025-03-26T00:00","v":6.6},{"t":"2025-03-26T06:00","v":1.58},{"t":"2025-03-26T12:00","v":5.6},{"t":"2025-03-26T18:00","v":3.1},
{"t":"2025-03-27T00:00","v":5.9},{"t":"2025-03-27T06:00","v":2.7},{"t":"2025-03-27T12:00","v":5.5},{"t":"2025-03-27T18:00","v":1.58},
{"t":"2025-03-28T00:00","v":6.0},{"t":"2025-03-28T06:00","v":3.3},{"t":"2025-03-28T12:00","v":6.2},{"t":"2025-03-28T18:00","v":1.58},
{"t":"2025-03-29T00:00","v":6.6},{"t":"2025-03-29T06:00","v":1.58},{"t":"2025-03-29T12:00","v":6.8},{"t":"2025-03-29T18:00","v":4.0},
{"t":"2025-03-30T00:00","v":7.4},{"t":"2025-03-30T06:00","v":3.9},{"t":"2025-03-30T12:00","v":7.5},{"t":"2025-03-30T18:00","v":1.58},
{"t":"2025-03-31T00:00","v":6.8},{"t":"2025-03-31T06:00","v":4.2},{"t":"2025-03-31T12:00","v":6.7},{"t":"2025-03-31T18:00","v":1.58},
{"t":"2025-04-01T00:00","v":6.4},{"t":"2025-04-01T06:00","v":1.58},{"t":"2025-04-01T12:00","v":7.0},{"t":"2025-04-01T18:00","v":3.8},
{"t":"2025-04-02T00:00","v":7.7},{"t":"2025-04-02T06:00","v":4.4},{"t":"2025-04-02T12:00","v":8.2},{"t":"2025-04-02T18:00","v":1.58},
{"t":"2025-04-03T00:00","v":7.8},{"t":"2025-04-03T06:00","v":4.3},{"t":"2025-04-03T12:00","v":7.9},{"t":"2025-04-03T18:00","v":1.58},
{"t":"2025-04-04T00:00","v":6.9},{"t":"2025-04-04T06:00","v":1.58},{"t":"2025-04-04T12:00","v":6.6},{"t":"2025-04-04T18:00","v":4.0},
{"t":"2025-04-05T00:00","v":7.15},{"t":"2025-04-05T06:00","v":3.9},{"t":"2025-04-05T12:00","v":6.4},{"t":"2025-04-05T18:00","v":1.58},
{"t":"2025-04-06T00:00","v":5.5},{"t":"2025-04-06T06:00","v":2.4},{"t":"2025-04-06T12:00","v":5.0},{"t":"2025-04-06T18:00","v":1.58},
{"t":"2025-04-07T00:00","v":6.8},{"t":"2025-04-07T06:00","v":1.58},{"t":"2025-04-07T12:00","v":7.0},{"t":"2025-04-07T18:00","v":2.8},
{"t":"2025-04-08T00:00","v":5.0},{"t":"2025-04-08T06:00","v":2.6},{"t":"2025-04-08T12:00","v":4.8},{"t":"2025-04-08T18:00","v":1.58},
{"t":"2025-04-09T00:00","v":5.4},{"t":"2025-04-09T06:00","v":2.9},{"t":"2025-04-09T12:00","v":5.1},{"t":"2025-04-09T18:00","v":1.58},
{"t":"2025-04-10T00:00","v":4.9},{"t":"2025-04-10T06:00","v":1.58},{"t":"2025-04-10T12:00","v":5.2},{"t":"2025-04-10T18:00","v":2.5},
{"t":"2025-04-11T00:00","v":4.7},{"t":"2025-04-11T06:00","v":2.4},{"t":"2025-04-11T12:00","v":4.9},{"t":"2025-04-11T18:00","v":1.58},
{"t":"2025-04-12T00:00","v":5.6},{"t":"2025-04-12T06:00","v":1.9},{"t":"2025-04-12T12:00","v":4.4},{"t":"2025-04-12T18:00","v":1.58},
{"t":"2025-04-13T00:00","v":4.9},{"t":"2025-04-13T06:00","v":0.3},{"t":"2025-04-13T12:00","v":4.1},{"t":"2025-04-13T18:00","v":1.58},
{"t":"2025-04-14T00:00","v":4.2},{"t":"2025-04-14T06:00","v":2.4},{"t":"2025-04-14T12:00","v":4.6},{"t":"2025-04-14T18:00","v":1.58},
{"t":"2025-04-15T00:00","v":4.5},{"t":"2025-04-15T06:00","v":2.6},{"t":"2025-04-15T12:00","v":5.7},{"t":"2025-04-15T18:00","v":1.58},
{"t":"2025-04-16T00:00","v":5.4},{"t":"2025-04-16T06:00","v":1.58},{"t":"2025-04-16T12:00","v":4.3},{"t":"2025-04-16T18:00","v":2.5},
{"t":"2025-04-17T00:00","v":5.9},{"t":"2025-04-17T06:00","v":2.1},{"t":"2025-04-17T12:00","v":3.9},{"t":"2025-04-17T18:00","v":0.2},
{"t":"2025-04-18T00:00","v":2.7},{"t":"2025-04-18T06:00","v":0.0},{"t":"2025-04-18T12:00","v":2.4},{"t":"2025-04-18T18:00","v":0.1},
{"t":"2025-04-19T00:00","v":4.1},{"t":"2025-04-19T06:00","v":1.58},{"t":"2025-04-19T12:00","v":4.4},{"t":"2025-04-19T18:00","v":1.8},
{"t":"2025-04-20T00:00","v":5.3},{"t":"2025-04-20T06:00","v":2.0},{"t":"2025-04-20T12:00","v":4.2},{"t":"2025-04-20T18:00","v":1.58},
{"t":"2025-04-21T00:00","v":5.5},{"t":"2025-04-21T06:00","v":1.9},{"t":"2025-04-21T12:00","v":3.8},{"t":"2025-04-21T18:00","v":0.79},
{"t":"2025-04-22T00:00","v":2.4},{"t":"2025-04-22T06:00","v":0.1},{"t":"2025-04-22T12:00","v":1.9},{"t":"2025-04-22T18:00","v":0.0},
{"t":"2025-04-23T00:00","v":2.1},{"t":"2025-04-23T06:00","v":0.0},{"t":"2025-04-23T12:00","v":2.2},{"t":"2025-04-23T18:00","v":0.3},
{"t":"2025-04-24T00:00","v":2.9},{"t":"2025-04-24T06:00","v":1.5},{"t":"2025-04-24T12:00","v":3.8},{"t":"2025-04-24T18:00","v":1.58},
{"t":"2025-04-25T00:00","v":4.1},{"t":"2025-04-25T06:00","v":1.58},{"t":"2025-04-25T12:00","v":4.4},{"t":"2025-04-25T18:00","v":1.9},
{"t":"2025-04-26T00:00","v":4.9},{"t":"2025-04-26T06:00","v":2.0},{"t":"2025-04-26T12:00","v":5.6},{"t":"2025-04-26T18:00","v":1.58},
{"t":"2025-04-27T00:00","v":5.7},{"t":"2025-04-27T06:00","v":0.4},{"t":"2025-04-27T12:00","v":3.6},{"t":"2025-04-27T18:00","v":1.5},
{"t":"2025-04-28T00:00","v":3.2},{"t":"2025-04-28T06:00","v":1.3},{"t":"2025-04-28T12:00","v":3.5},{"t":"2025-04-28T18:00","v":0.79},
{"t":"2025-04-29T00:00","v":4.1},{"t":"2025-04-29T06:00","v":1.4},{"t":"2025-04-29T12:00","v":3.3},{"t":"2025-04-29T18:00","v":0.79},
{"t":"2025-04-30T00:00","v":3.6},{"t":"2025-04-30T06:00","v":1.2},{"t":"2025-04-30T12:00","v":3.1},{"t":"2025-04-30T18:00","v":0.4},
{"t":"2025-05-01T00:00","v":4.2},{"t":"2025-05-01T06:00","v":2.9},{"t":"2025-05-01T12:00","v":4.8},{"t":"2025-05-01T18:00","v":1.58},
{"t":"2025-05-02T00:00","v":5.5},{"t":"2025-05-02T06:00","v":1.58},{"t":"2025-05-02T12:00","v":6.0},{"t":"2025-05-02T18:00","v":3.2},
{"t":"2025-05-03T00:00","v":6.2},{"t":"2025-05-03T06:00","v":3.1},{"t":"2025-05-03T12:00","v":5.8},{"t":"2025-05-03T18:00","v":1.58},
{"t":"2025-05-04T00:00","v":5.2},{"t":"2025-05-04T06:00","v":2.9},{"t":"2025-05-04T12:00","v":5.0},{"t":"2025-05-04T18:00","v":1.58},
{"t":"2025-05-05T00:00","v":4.0},{"t":"2025-05-05T06:00","v":1.58},{"t":"2025-05-05T12:00","v":5.1},{"t":"2025-05-05T18:00","v":1.8},
{"t":"2025-05-06T00:00","v":3.8},{"t":"2025-05-06T06:00","v":1.9},{"t":"2025-05-06T12:00","v":3.9},{"t":"2025-05-06T18:00","v":0.79},
{"t":"2025-05-07T00:00","v":3.6},{"t":"2025-05-07T06:00","v":2.0},{"t":"2025-05-07T12:00","v":4.0},{"t":"2025-05-07T18:00","v":0.79},
{"t":"2025-05-08T00:00","v":3.9},{"t":"2025-05-08T06:00","v":1.9},{"t":"2025-05-08T12:00","v":3.5},{"t":"2025-05-08T18:00","v":0.1},
{"t":"2025-05-09T00:00","v":5.6},{"t":"2025-05-09T06:00","v":2.1},{"t":"2025-05-09T12:00","v":4.7},{"t":"2025-05-09T18:00","v":1.58},
{"t":"2025-05-10T00:00","v":4.6},{"t":"2025-05-10T06:00","v":2.4},{"t":"2025-05-10T12:00","v":5.0},{"t":"2025-05-10T18:00","v":1.58},
{"t":"2025-05-11T00:00","v":5.4},{"t":"2025-05-11T06:00","v":1.58},{"t":"2025-05-11T12:00","v":5.8},{"t":"2025-05-11T18:00","v":3.6},
{"t":"2025-05-12T00:00","v":6.75},{"t":"2025-05-12T06:00","v":3.9},{"t":"2025-05-12T12:00","v":6.2},{"t":"2025-05-12T18:00","v":1.58},
{"t":"2025-05-13T00:00","v":7.0},{"t":"2025-05-13T06:00","v":4.0},{"t":"2025-05-13T12:00","v":6.95},{"t":"2025-05-13T18:00","v":1.58},
{"t":"2025-05-14T00:00","v":6.1},{"t":"2025-05-14T06:00","v":1.58},{"t":"2025-05-14T12:00","v":6.5},{"t":"2025-05-14T18:00","v":3.8},
{"t":"2025-05-15T00:00","v":5.4},{"t":"2025-05-15T06:00","v":2.9},{"t":"2025-05-15T12:00","v":5.8},{"t":"2025-05-15T18:00","v":1.58},
{"t":"2025-05-16T00:00","v":5.0},{"t":"2025-05-16T06:00","v":2.8},{"t":"2025-05-16T12:00","v":5.3},{"t":"2025-05-16T18:00","v":1.58},
{"t":"2025-05-17T00:00","v":6.75},{"t":"2025-05-17T06:00","v":1.58},{"t":"2025-05-17T12:00","v":5.7},{"t":"2025-05-17T18:00","v":2.7},
{"t":"2025-05-18T00:00","v":5.4},{"t":"2025-05-18T06:00","v":0.6},{"t":"2025-05-18T12:00","v":2.9},{"t":"2025-05-18T18:00","v":0.79},
{"t":"2025-05-19T00:00","v":2.6},{"t":"2025-05-19T06:00","v":1.0},{"t":"2025-05-19T12:00","v":2.8},{"t":"2025-05-19T18:00","v":0.7},
{"t":"2025-05-20T00:00","v":2.9},{"t":"2025-05-20T06:00","v":1.2},{"t":"2025-05-20T12:00","v":2.5},{"t":"2025-05-20T18:00","v":0.9},
{"t":"2025-05-21T00:00","v":2.7},{"t":"2025-05-21T06:00","v":0.79},{"t":"2025-05-21T12:00","v":3.1},{"t":"2025-05-21T18:00","v":1.58},
{"t":"2025-05-22T00:00","v":4.6},{"t":"2025-05-22T06:00","v":2.8},{"t":"2025-05-22T12:00","v":5.2},{"t":"2025-05-22T18:00","v":1.58},
{"t":"2025-05-23T00:00","v":5.5},{"t":"2025-05-23T06:00","v":1.58},{"t":"2025-05-23T12:00","v":6.7},{"t":"2025-05-23T18:00","v":3.0},
{"t":"2025-05-24T00:00","v":6.3},{"t":"2025-05-24T06:00","v":3.2},{"t":"2025-05-24T12:00","v":5.4},{"t":"2025-05-24T18:00","v":1.58},
{"t":"2025-05-25T00:00","v":6.2},{"t":"2025-05-25T06:00","v":2.9},{"t":"2025-05-25T12:00","v":5.0},{"t":"2025-05-25T18:00","v":1.58},
{"t":"2025-05-26T00:00","v":6.4},{"t":"2025-05-26T06:00","v":1.58},{"t":"2025-05-26T12:00","v":4.8},{"t":"2025-05-26T18:00","v":2.6},
{"t":"2025-05-27T00:00","v":4.7},{"t":"2025-05-27T06:00","v":0.79},{"t":"2025-05-27T12:00","v":4.2},{"t":"2025-05-27T18:00","v":1.58},
{"t":"2025-05-28T00:00","v":6.85},{"t":"2025-05-28T06:00","v":2.5},{"t":"2025-05-28T12:00","v":6.6},{"t":"2025-05-28T18:00","v":1.58},
{"t":"2025-05-29T00:00","v":4.5},{"t":"2025-05-29T06:00","v":1.58},{"t":"2025-05-29T12:00","v":4.8},{"t":"2025-05-29T18:00","v":1.2},
{"t":"2025-05-30T00:00","v":5.0},{"t":"2025-05-30T06:00","v":2.9},{"t":"2025-05-30T12:00","v":5.3},{"t":"2025-05-30T18:00","v":1.58},
{"t":"2025-05-31T00:00","v":5.9},{"t":"2025-05-31T06:00","v":2.7},{"t":"2025-05-31T12:00","v":4.8},{"t":"2025-05-31T18:00","v":1.58},
{"t":"2025-06-01T00:00","v":5.2},{"t":"2025-06-01T06:00","v":1.58},{"t":"2025-06-01T12:00","v":5.9},{"t":"2025-06-01T18:00","v":3.0},
{"t":"2025-06-02T00:00","v":5.0},{"t":"2025-06-02T06:00","v":2.8},{"t":"2025-06-02T12:00","v":4.9},{"t":"2025-06-02T18:00","v":1.58},
{"t":"2025-06-03T00:00","v":4.6},{"t":"2025-06-03T06:00","v":2.9},{"t":"2025-06-03T12:00","v":5.3},{"t":"2025-06-03T18:00","v":1.58},
{"t":"2025-06-04T00:00","v":6.4},{"t":"2025-06-04T06:00","v":1.58},{"t":"2025-06-04T12:00","v":6.85},{"t":"2025-06-04T18:00","v":3.0},
{"t":"2025-06-05T00:00","v":5.1},{"t":"2025-06-05T06:00","v":2.8},{"t":"2025-06-05T12:00","v":5.3},{"t":"2025-06-05T18:00","v":1.58},
{"t":"2025-06-06T00:00","v":4.9},{"t":"2025-06-06T06:00","v":2.7},{"t":"2025-06-06T12:00","v":5.2},{"t":"2025-06-06T18:00","v":1.58},
{"t":"2025-06-07T00:00","v":5.3},{"t":"2025-06-07T06:00","v":1.58},{"t":"2025-06-07T12:00","v":4.8},{"t":"2025-06-07T18:00","v":3.0},
{"t":"2025-06-08T00:00","v":5.6},{"t":"2025-06-08T06:00","v":3.2},{"t":"2025-06-08T12:00","v":5.9},{"t":"2025-06-08T18:00","v":1.58},
{"t":"2025-06-09T00:00","v":6.2},{"t":"2025-06-09T06:00","v":3.9},{"t":"2025-06-09T12:00","v":6.75},{"t":"2025-06-09T18:00","v":1.58},
{"t":"2025-06-10T00:00","v":6.4},{"t":"2025-06-10T06:00","v":1.58},{"t":"2025-06-10T12:00","v":7.15},{"t":"2025-06-10T18:00","v":4.0},
{"t":"2025-06-11T00:00","v":7.4},{"t":"2025-06-11T06:00","v":3.8},{"t":"2025-06-11T12:00","v":7.35},{"t":"2025-06-11T18:00","v":1.58},
{"t":"2025-06-12T00:00","v":7.0},{"t":"2025-06-12T06:00","v":4.1},{"t":"2025-06-12T12:00","v":6.2},{"t":"2025-06-12T18:00","v":1.58},
{"t":"2025-06-13T00:00","v":6.15},{"t":"2025-06-13T06:00","v":1.58},{"t":"2025-06-13T12:00","v":5.6},{"t":"2025-06-13T18:00","v":3.4},
{"t":"2025-06-14T00:00","v":5.4},{"t":"2025-06-14T06:00","v":3.3},{"t":"2025-06-14T12:00","v":5.7},{"t":"2025-06-14T18:00","v":1.58},
{"t":"2025-06-15T00:00","v":5.2},{"t":"2025-06-15T06:00","v":3.5},{"t":"2025-06-15T12:00","v":5.5},{"t":"2025-06-15T18:00","v":1.58},
{"t":"2025-06-16T00:00","v":5.8},{"t":"2025-06-16T06:00","v":1.58},{"t":"2025-06-16T12:00","v":5.6},{"t":"2025-06-16T18:00","v":3.2},
{"t":"2025-06-17T00:00","v":5.3},{"t":"2025-06-17T06:00","v":3.4},{"t":"2025-06-17T12:00","v":5.9},{"t":"2025-06-17T18:00","v":1.58},
{"t":"2025-06-18T00:00","v":5.5},{"t":"2025-06-18T06:00","v":3.1},{"t":"2025-06-18T12:00","v":5.2},{"t":"2025-06-18T18:00","v":1.58},
{"t":"2025-06-19T00:00","v":5.7},{"t":"2025-06-19T06:00","v":1.58},{"t":"2025-06-19T12:00","v":5.6},{"t":"2025-06-19T18:00","v":3.3},
{"t":"2025-06-20T00:00","v":6.1},{"t":"2025-06-20T06:00","v":3.2},{"t":"2025-06-20T12:00","v":5.4},{"t":"2025-06-20T18:00","v":1.58},
{"t":"2025-06-21T00:00","v":6.0},{"t":"2025-06-21T06:00","v":3.4},{"t":"2025-06-21T12:00","v":5.8},{"t":"2025-06-21T18:00","v":1.58},
{"t":"2025-06-22T00:00","v":5.5},{"t":"2025-06-22T06:00","v":1.58},{"t":"2025-06-22T12:00","v":5.3},{"t":"2025-06-22T18:00","v":3.0},
{"t":"2025-06-23T00:00","v":4.2},{"t":"2025-06-23T06:00","v":5.8}
]
},
"layer": [
{
"data": {"name": "wind"},
"mark": {"type": "line", "color": "#0072BD", "strokeWidth": 3.3, "interpolate": "linear"},
"encoding": {
"x": {"field": "t", "type": "temporal",
 "scale": {"domain": [{"year": 2024, "month": 9, "date": 9, "hours": 12}, {"year": 2025, "month": 6, "date": 23, "hours": 6}], "nice": false, "padding": 0},
 "axis": {
  "values": [{"year": 2024, "month": 9, "date": 9, "hours": 12}, {"year": 2024, "month": 10, "date": 27, "hours": 7}, {"year": 2024, "month": 12, "date": 14, "hours": 2}, {"year": 2025, "month": 1, "date": 30, "hours": 21}, {"year": 2025, "month": 3, "date": 19, "hours": 16}, {"year": 2025, "month": 5, "date": 6, "hours": 11}, {"year": 2025, "month": 6, "date": 23, "hours": 6}],
  "labelExpr": "[timeFormat(datum.value, '%d %b'), '\u200b\u00a0\u00a0\u00a0' + timeFormat(datum.value, '%Y')]",
  "labelFont": "DejaVu Sans Mono", "labelFontSize": 20.5, "labelColor": "#262626",
  "labelAlign": "left", "labelBaseline": "top", "labelOffset": -46, "labelPadding": 40, "labelLineHeight": 28,
  "labelFlush": false, "labelOverlap": false, "labelBound": false,
  "tickSize": -31, "tickColor": "#262626", "tickWidth": 1.5,
  "domainColor": "#262626", "domainWidth": 1.5, "grid": false, "title": null
 }},
"y": {"field": "v", "type": "quantitative",
 "scale": {"domain": [0, 9], "nice": false, "zero": true},
 "axis": {
  "values": [0, 1, 2, 3, 4, 5, 6, 7, 8, 9],
  "labelFont": "DejaVu Sans", "labelFontSize": 20, "labelColor": "#262626", "labelPadding": 39,
  "tickSize": -32, "tickColor": "#262626", "tickWidth": 1.5,
  "domainColor": "#262626", "domainWidth": 1.5, "grid": false,
  "title": "m/s", "titleFont": "DejaVu Sans Mono", "titleFontSize": 40, "titleFontWeight": "normal", "titleColor": "#262626",
  "titleAngle": 270, "titleX": -47, "titleY": 918, "titleAlign": "center", "titleBaseline": "middle"
 }}
}
},
{
"data": {"name": "mphscale"},
"mark": {"type": "point", "opacity": 0},
"encoding": {
"y": {"field": "mph", "type": "quantitative",
 "scale": {"domain": [0, 20.1325], "nice": false, "zero": true},
 "axis": {
  "orient": "right",
  "values": [0, 2, 4, 6, 8, 10, 12, 14, 16, 18, 20],
  "labelFont": "DejaVu Sans Mono", "labelFontSize": 20, "labelColor": "black", "labelPadding": 36,
  "tickSize": -31, "tickColor": "black", "tickWidth": 1.5,
  "domainColor": "black", "domainWidth": 1.5, "grid": false,
  "title": "mph", "titleFont": "DejaVu Sans Mono", "titleFontSize": 40, "titleFontWeight": "normal", "titleColor": "black",
  "titleAngle": 270, "titleX": 62, "titleY": 918, "titleAlign": "center", "titleBaseline": "middle"
 }}
}
}
],
"resolve": {"scale": {"y": "independent"}}
}
